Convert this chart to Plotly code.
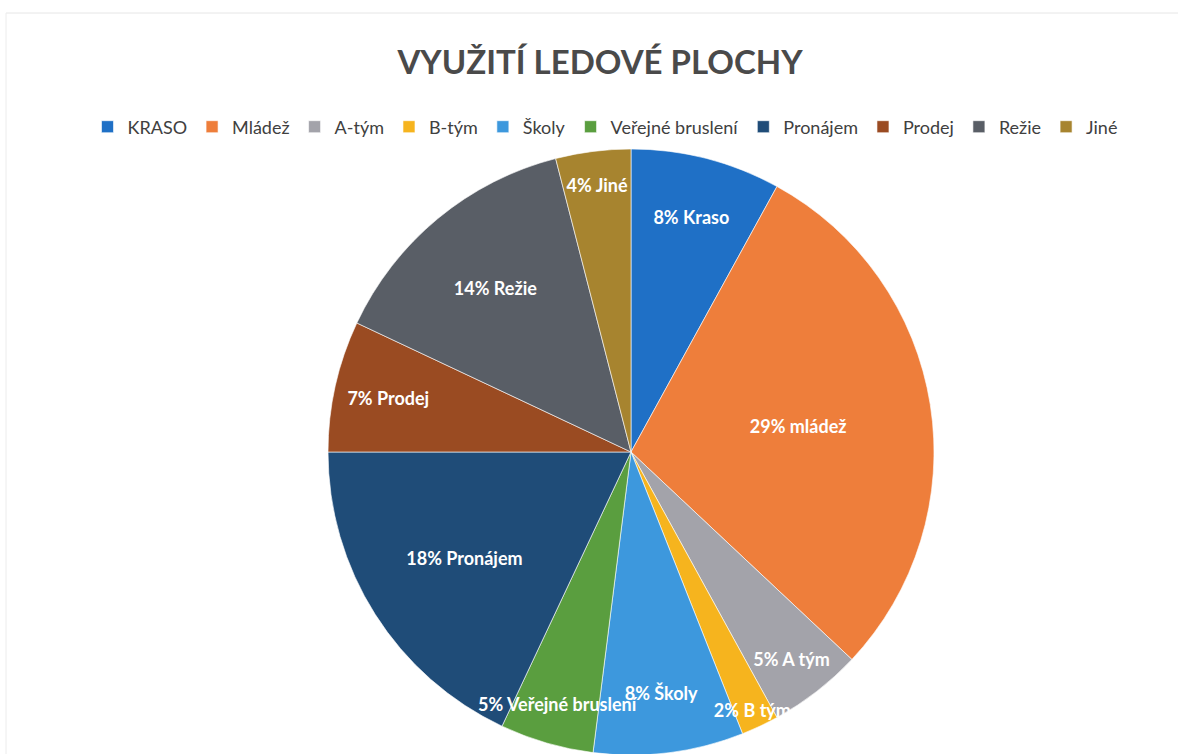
import plotly.graph_objects as go

legend_labels = ["KRASO", "Mládež", "A-tým", "B-tým", "Školy", "Veřejné bruslení",
                 "Pronájem", "Prodej", "Režie", "Jiné"]
slice_labels = ["Kraso", "mládež", "A tým", "B tým", "Školy", "Veřejné bruslení",
                "Pronájem", "Prodej", "Režie", "Jiné"]
values = [8, 29, 5, 2, 8, 5, 18, 7, 14, 4]
colors = ["#1F70C6", "#EE7E3B", "#A3A3AA", "#F6B41E", "#3D98DD", "#5A9E3F",
          "#1F4C78", "#9A4B22", "#595E66", "#A7842F"]

texts = [f"{v}% {s}" for v, s in zip(values, slice_labels)]

W, H = 1178, 800
cx, cy, r = 631, 452, 303
dom = dict(x=[(cx - r) / W, (cx + r) / W], y=[1 - (cy + r) / H, 1 - (cy - r) / H])

common = dict(values=values, sort=False, direction="clockwise", rotation=0, domain=dom)

# colored slices
fig = go.Figure(go.Pie(
    labels=legend_labels,
    textinfo="none",
    hoverinfo="label+percent",
    marker=dict(colors=colors, line=dict(color="rgba(255,255,255,0.6)", width=1)),
    **common,
))

# label layer drawn on top so that overflowing labels are not hidden by neighbouring slices
fig.add_trace(go.Pie(
    labels=legend_labels,
    text=texts,
    textinfo="text",
    hoverinfo="skip",
    showlegend=False,
    marker=dict(colors=["rgba(0,0,0,0)"] * len(values), line=dict(width=0)),
    textposition="inside",
    insidetextorientation="horizontal",
    textfont=dict(family="Lato", size=18, color="white", weight="bold"),
    **common,
))

fig.update_layout(
    width=W, height=H,
    margin=dict(l=0, r=0, t=0, b=0),
    paper_bgcolor="white",
    title=dict(text="<b>VYUŽITÍ LEDOVÉ PLOCHY</b>", x=600 / W, xanchor="center",
               y=1 - 62 / H, yanchor="middle",
               font=dict(family="Lato", size=33, color="#4a4a4a")),
    legend=dict(orientation="h", x=605 / W, xanchor="center", y=1 - 127 / H, yanchor="middle",
                font=dict(family="Lato", size=18, color="#404040"), traceorder="normal",
                itemclick=False),
    uniformtext=dict(minsize=18, mode="show"),
    shapes=[dict(type="line", xref="paper", yref="paper", x0=6 / W, x1=1, y0=1 - 13 / H, y1=1 - 13 / H,
                 line=dict(color="#e6e6e6", width=1)),
            dict(type="line", xref="paper", yref="paper", x0=6 / W, x1=6 / W, y0=1 - 13 / H, y1=0,
                 line=dict(color="#ececec", width=1))],
)

fig.write_html("out.html", config={"displayModeBar": False},
               post_script="document.body.style.margin='0';document.body.style.overflow='hidden';")
